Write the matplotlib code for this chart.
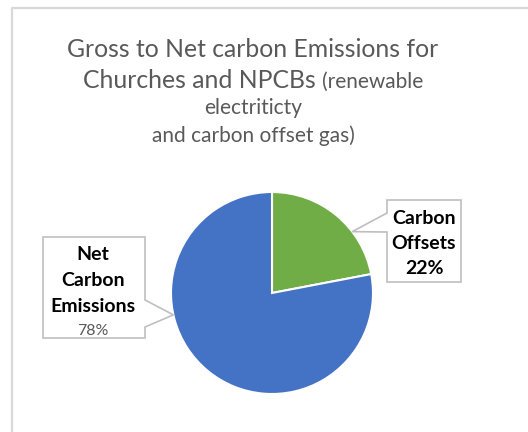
import numpy as np
import matplotlib
matplotlib.use('Agg')
import matplotlib.pyplot as plt
from matplotlib.patches import Polygon

# Data
labels = ['Carbon\nOffsets', 'Net\nCarbon\nEmissions']
values = [22, 78]
colors = ['#70AD47', '#4472C4']

plt.rcParams['font.family'] = ['Lato', 'DejaVu Sans']

W, H = 528, 432
fig = plt.figure(figsize=(W / 100, H / 100), dpi=100)

# pie geometry in pixels (centre and radius)
cx, cy, rad = 272, 293, 101


def px(x, y):
    # pixel (from top-left) -> data units
    return (x - cx) / rad, (cy - y) / rad


ax = fig.add_axes([0, 0, 1, 1])
ax.axis('off')

# chart frame (top and left edges visible)
ax.plot([px(12, 0)[0], px(12, 0)[0], px(W, 0)[0]],
        [px(0, H)[1], px(0, 8)[1], px(0, 8)[1]],
        color='#D9D9D9', lw=1.6, clip_on=False)

wedges, _ = ax.pie(values, colors=colors, startangle=90, counterclock=False,
                   radius=1, center=(0, 0),
                   wedgeprops=dict(edgecolor='white', linewidth=1.5))
ax.set_xlim(px(0, 0)[0], px(W, 0)[0])
ax.set_ylim(px(0, H)[1], px(0, 0)[1])
ax.set_aspect('equal')

# title (mixed font sizes, like the original)
tcol = '#595959'
big, small = 17.8, 15
tx = 253
ax.text(*px(tx, 57), 'Gross to Net carbon Emissions for', ha='center', va='baseline',
        fontsize=big, color=tcol)
r = fig.canvas.get_renderer()
t1 = ax.text(0, 0, 'Churches and NPCBs ', fontsize=big, color=tcol, va='baseline')
t2 = ax.text(0, 0, '(renewable', fontsize=small, color=tcol, va='baseline')
w1 = t1.get_window_extent(r).width
w2 = t2.get_window_extent(r).width
x0 = tx - (w1 + w2) / 2
t1.set_position(px(x0, 88))
t2.set_position(px(x0 + w1, 88))
ax.text(*px(tx, 114), 'electriticty', ha='center', va='baseline', fontsize=small, color=tcol)
ax.text(*px(tx, 142), 'and carbon offset gas)', ha='center', va='baseline', fontsize=small, color=tcol)


def callout(box, base, tip_angle, side):
    l, t, rr, b = box
    tip = (np.cos(np.radians(tip_angle)), np.sin(np.radians(tip_angle)))
    if side == 'right':
        pts = [px(l, t), px(rr, t), px(rr, base[0]), tip, px(rr, base[1]), px(rr, b), px(l, b)]
    else:
        pts = [px(l, t), px(rr, t), px(rr, b), px(l, b), px(l, base[1]), tip, px(l, base[0])]
    ax.add_patch(Polygon(pts, closed=True, facecolor='white', edgecolor='#BFBFBF',
                         lw=1.2, zorder=3))


pcts = [f'{v}%' for v in values]

# Net Carbon Emissions label
callout((43, 237, 145, 338), (300, 327), 192.5, 'right')
for txt, y in zip(labels[1].split('\n'), [255, 280, 306]):
    ax.text(*px(93, y), txt, ha='center', va='center', fontsize=14, fontweight='bold',
            color='black', zorder=4)
ax.text(*px(93, 331), pcts[1], ha='center', va='center', fontsize=11.5, color='#595959', zorder=4)

# Carbon Offsets label
callout((387, 200, 461, 282), (213, 232), 37.4, 'left')
for txt, y in zip(labels[0].split('\n') + [pcts[0]], [218, 243, 268]):
    ax.text(*px(424, y), txt, ha='center', va='center', fontsize=14, fontweight='bold',
            color='black', zorder=4)

fig.savefig('out.png', dpi=100)
